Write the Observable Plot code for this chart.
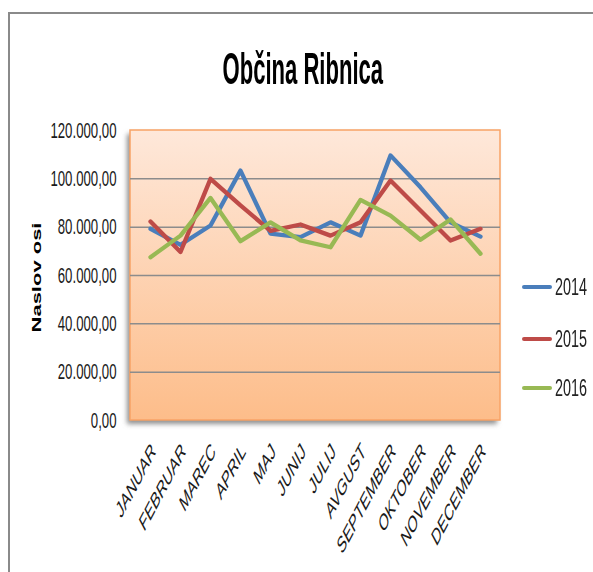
<!DOCTYPE html>
<html><head><meta charset="utf-8">
<script src="https://cdn.jsdelivr.net/npm/d3@7"></script>
<script src="https://cdn.jsdelivr.net/npm/@observablehq/plot@0.6"></script>
<style>
html,body{margin:0;background:#fff;overflow:hidden;}
#wrap{position:relative;width:593px;height:572px;overflow:hidden;font-family:"Liberation Sans",Arial,sans-serif;background:#fff;}
#frame{position:absolute;left:8px;top:12px;width:590px;height:600px;border-top:2px solid #8a8a8a;border-left:2px solid #8a8a8a;}
#chart{position:absolute;left:0;top:0;}
#title{position:absolute;left:0;width:606px;top:46px;text-align:center;font-size:45px;line-height:45px;font-weight:bold;color:#000;}
#title span{display:inline-block;transform:scaleX(0.49);transform-origin:center;white-space:nowrap;}
.leg{position:absolute;left:522px;height:30px;}
.leg .sw{position:absolute;left:0;top:13px;width:30px;height:4px;border-radius:2px;}
.leg .tx{position:absolute;left:33px;top:0;font-size:24px;line-height:30px;color:#222;transform:scaleX(0.6);transform-origin:left;white-space:nowrap;}
</style></head><body>
<div id="wrap"><div id="frame"></div><div id="chart"></div><div id="title"></div><div id="legend"></div></div>
<script>
const title = "Občina Ribnica";
const yLabel = "Naslov osi";
const months = ["JANUAR","FEBRUAR","MAREC","APRIL","MAJ","JUNIJ","JULIJ","AVGUST","SEPTEMBER","OKTOBER","NOVEMBER","DECEMBER"];
const years = ["2014","2015","2016"];
const v2014 = [79300, 72700, 80700, 103400, 77300, 75900, 82000, 76500, 109700, 96500, 82000, 76100];
const v2015 = [82300, 69700, 100000, 89000, 78500, 81100, 76500, 82000, 99300, 86900, 74500, 79300];
const v2016 = [67600, 76500, 92100, 74200, 82000, 74500, 71700, 91300, 84800, 74800, 83200, 69000];
const yTicks = [0, 20000, 40000, 60000, 80000, 100000, 120000];
const colors = ["#4a7ebb", "#be4b48", "#98b954"];

const series = [v2014, v2015, v2016];
const data = years.flatMap((yr, i) => series[i].map((v, j) => ({month: months[j], year: yr, value: v})));
const loc = d3.formatLocale({decimal: ",", thousands: ".", grouping: [3], currency: ["", ""]});
const fmt = loc.format(",.2f");

const background = (index, scales, values, dims) => {
  const {marginLeft: l, marginTop: t, width: w, height: h, marginRight: r, marginBottom: b} = dims;
  const pw = w - l - r, ph = h - t - b;
  const g = d3.create("svg:g");
  const defs = g.append("defs");
  const lg = defs.append("linearGradient").attr("id", "bgGrad").attr("x1", 0).attr("y1", 0).attr("x2", 0).attr("y2", 1);
  lg.append("stop").attr("offset", 0).attr("stop-color", "#fee8da");
  lg.append("stop").attr("offset", 1).attr("stop-color", "#fdbd8a");
  const f = defs.append("filter").attr("id", "shadow").attr("x", "-10%").attr("y", "-10%").attr("width", "120%").attr("height", "120%");
  f.append("feGaussianBlur").attr("stdDeviation", 2.5);
  g.append("rect").attr("x", l - 3).attr("y", t + 4).attr("width", pw).attr("height", ph).attr("fill", "#8f8f8f").attr("filter", "url(#shadow)");
  g.append("rect").attr("x", l).attr("y", t).attr("width", pw).attr("height", ph).attr("fill", "url(#bgGrad)");
  g.append("rect").attr("x", l).attr("y", t).attr("width", pw).attr("height", ph).attr("fill", "none").attr("stroke", "#f8a366").attr("stroke-width", 1.5);
  return g.node();
};

const plot = Plot.plot({
  width: 593, height: 572,
  marginLeft: 130, marginRight: 93, marginTop: 130, marginBottom: 152,
  style: {background: "transparent", fontFamily: "Liberation Sans, Arial, sans-serif", color: "#1a1a1a", overflow: "visible"},
  x: {type: "point", domain: months, padding: 0.5},
  y: {domain: [0, 120000]},
  color: {domain: years, range: colors},
  marks: [
    background,
    Plot.gridY(yTicks.filter(d => d > 0 && d < 120000), {stroke: "#8c8c8c", strokeOpacity: 1, strokeWidth: 1.5}),
    Plot.line(data, {x: "month", y: "value", z: "year", stroke: "year", strokeWidth: 4.3, strokeLinejoin: "round"}),
    Plot.axisY(yTicks, {tickFormat: fmt, tickSize: 0, tickPadding: 14, fontSize: 22, label: null}),
    Plot.axisX(months, {tickSize: 0, tickRotate: -45, fontSize: 23.5, tickPadding: 27, dx: 3, label: null}),
    Plot.text([yLabel], {frameAnchor: "left", textAnchor: "middle", lineAnchor: "middle", dx: -94, dy: 2, rotate: -90, fontWeight: "bold", fontSize: 22, fill: "#000"})
  ]
});
document.getElementById("chart").appendChild(plot);

// horizontally condensed text, as in the reference
plot.querySelectorAll('g[aria-label="y-axis tick label"] text').forEach(t => {
  const len = t.getComputedTextLength();
  t.setAttribute("textLength", len * 0.6);
  t.setAttribute("lengthAdjust", "spacingAndGlyphs");
});
plot.querySelectorAll('g[aria-label="x-axis tick label"] text').forEach(t => {
  const tr = t.getAttribute("transform") || "";
  if (tr.includes("rotate")) t.setAttribute("transform", tr.replace("rotate(", "scale(0.53,1) rotate("));
});
plot.querySelectorAll('g[aria-label="text"] text').forEach(t => {
  const tr = t.getAttribute("transform") || "";
  t.setAttribute("transform", tr + " scale(1,0.6)");
});

document.getElementById("title").innerHTML = `<span>${title}</span>`;
const legend = document.getElementById("legend");
const legY = [272, 324, 373];
years.forEach((yr, i) => {
  const d = document.createElement("div");
  d.className = "leg";
  d.style.top = legY[i] + "px";
  d.innerHTML = `<div class="sw" style="background:${colors[i]}"></div><div class="tx">${yr}</div>`;
  legend.appendChild(d);
});
</script>
</body></html>
